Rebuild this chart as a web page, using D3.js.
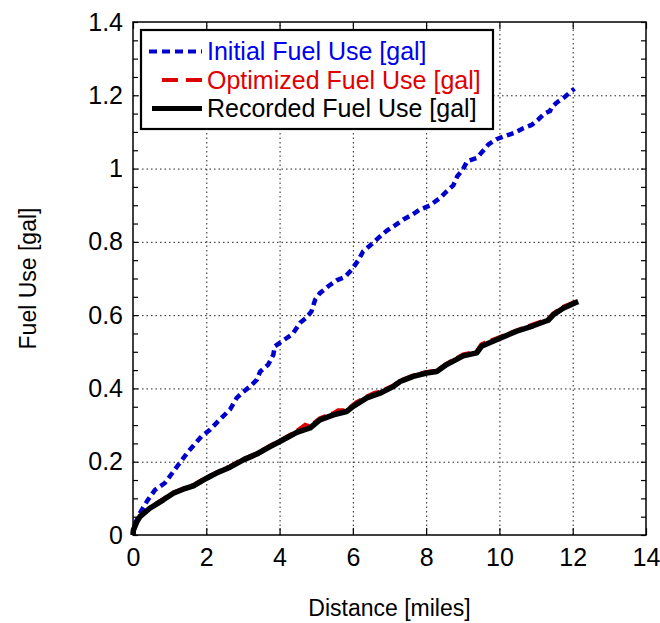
<!DOCTYPE html>
<html>
<head>
<meta charset="utf-8">
<script src="https://cdn.jsdelivr.net/npm/d3@7"></script>
<style>
  html, body { margin: 0; padding: 0; background: #fff; }
  svg { display: block; font-family: "Liberation Sans", Arial, sans-serif; }
</style>
</head>
<body>
<svg id="chart" width="660" height="623"></svg>
<script>
// Distance travelled [miles] and cumulative fuel use [gal]
const initialDist = [0, 0.05, 0.19, 0.4, 0.6, 0.87, 1.19, 1.51, 1.87, 2.1, 2.32, 2.65, 2.83, 3.0, 3.19, 3.38, 3.47, 3.69, 3.83, 3.87, 4.1, 4.36, 4.56, 4.72, 4.87, 4.97, 5.1, 5.33, 5.56, 5.78, 5.97, 6.15, 6.28, 6.47, 6.69, 6.92, 7.15, 7.38, 7.6, 7.83, 8.1, 8.38, 8.56, 8.74, 8.85, 9.0, 9.12, 9.38, 9.56, 9.7, 9.92, 10.19, 10.42, 10.65, 10.88, 11.06, 11.23, 11.38, 11.42, 11.56, 11.79, 11.97, 12.05];
const initialFuel = [0, 0.03, 0.06, 0.095, 0.123, 0.142, 0.185, 0.228, 0.269, 0.287, 0.31, 0.343, 0.374, 0.39, 0.405, 0.424, 0.446, 0.465, 0.492, 0.515, 0.531, 0.549, 0.579, 0.592, 0.61, 0.642, 0.66, 0.679, 0.695, 0.704, 0.724, 0.75, 0.774, 0.79, 0.81, 0.83, 0.845, 0.861, 0.873, 0.888, 0.899, 0.92, 0.938, 0.954, 0.979, 0.997, 1.02, 1.029, 1.049, 1.066, 1.08, 1.09, 1.098, 1.11, 1.119, 1.134, 1.15, 1.157, 1.166, 1.18, 1.196, 1.212, 1.218];

const recordedDist = [0, 0.01, 0.1, 0.19, 0.46, 0.83, 1.1, 1.37, 1.65, 2.01, 2.28, 2.65, 3.01, 3.38, 3.74, 4.1, 4.47, 4.83, 5.1, 5.47, 5.83, 6.01, 6.38, 6.74, 7.1, 7.29, 7.65, 8.01, 8.29, 8.56, 9.01, 9.38, 9.51, 9.92, 10.47, 10.92, 11.33, 11.47, 11.74, 12.1, 12.15];
const recordedFuel = [0, 0.013, 0.035, 0.05, 0.073, 0.096, 0.114, 0.125, 0.134, 0.155, 0.169, 0.185, 0.205, 0.221, 0.241, 0.26, 0.28, 0.292, 0.314, 0.328, 0.337, 0.351, 0.374, 0.387, 0.405, 0.419, 0.433, 0.442, 0.446, 0.465, 0.489, 0.497, 0.515, 0.533, 0.556, 0.571, 0.586, 0.601, 0.619, 0.635, 0.637];

const optimizedDist = [0, 0.01, 0.1, 0.19, 0.46, 0.83, 1.1, 1.37, 1.65, 2.01, 2.28, 2.65, 3.01, 3.38, 3.74, 4.1, 4.47, 4.7, 4.83, 5.1, 5.2, 5.47, 5.6, 5.83, 6.01, 6.1, 6.38, 6.6, 6.74, 7.1, 7.29, 7.65, 8.01, 8.29, 8.56, 9.01, 9.38, 9.51, 9.6, 9.92, 10.47, 10.92, 11.33, 11.47, 11.74, 12.1, 12.15];
const optimizedFuel = [0, 0.014, 0.036, 0.051, 0.074, 0.098, 0.115, 0.126, 0.136, 0.157, 0.17, 0.187, 0.207, 0.222, 0.243, 0.262, 0.283, 0.3, 0.296, 0.318, 0.322, 0.332, 0.34, 0.34, 0.355, 0.362, 0.377, 0.388, 0.39, 0.407, 0.421, 0.435, 0.444, 0.448, 0.467, 0.492, 0.5, 0.52, 0.524, 0.536, 0.558, 0.574, 0.589, 0.604, 0.622, 0.637, 0.638];

const xTicks = [0, 2, 4, 6, 8, 10, 12, 14];
const yTicks = [0, 0.2, 0.4, 0.6, 0.8, 1, 1.2, 1.4];
const yMinorTicks = d3.range(0, 1.4001, 0.05);

const seriesNames = ["Initial Fuel Use [gal]", "Optimized Fuel Use [gal]", "Recorded Fuel Use [gal]"];
const xTitle = "Distance [miles]";
const yTitle = "Fuel Use [gal]";

const margin = { left: 133, top: 22, right: 14, bottom: 88 };
const W = 660, H = 623;
const pw = W - margin.left - margin.right;   // 513
const ph = H - margin.top - margin.bottom;   // 513

const svg = d3.select("#chart");
const g = svg.append("g").attr("transform", `translate(${margin.left},${margin.top})`);

const x = d3.scaleLinear().domain([0, 14]).range([0, pw]);
const y = d3.scaleLinear().domain([0, 1.4]).range([ph, 0]);

// dotted grid at the major ticks
const grid = g.append("g").attr("class", "grid");
grid.append("g")
  .attr("transform", `translate(0,${ph})`)
  .call(d3.axisBottom(x).tickValues(xTicks.slice(1, -1)).tickSize(-ph).tickFormat(""))
  .call(s => s.select(".domain").remove());
grid.append("g")
  .call(d3.axisLeft(y).tickValues(yTicks.slice(1, -1)).tickSize(-pw).tickFormat(""))
  .call(s => s.select(".domain").remove());
grid.selectAll("line")
  .attr("stroke", "#222")
  .attr("stroke-width", 1)
  .attr("stroke-dasharray", "1.5,3");

// curves
const line = d3.line().x(d => x(d[0])).y(d => y(d[1]));
const zip = (a, b) => a.map((v, i) => [v, b[i]]);

g.append("path")
  .datum(zip(initialDist, initialFuel))
  .attr("d", line)
  .attr("fill", "none")
  .attr("stroke", "#0000cc")
  .attr("stroke-width", 4.5)
  .attr("stroke-dasharray", "7,4.5");

g.append("path")
  .datum(zip(optimizedDist, optimizedFuel))
  .attr("d", line)
  .attr("fill", "none")
  .attr("stroke", "#dd0000")
  .attr("stroke-width", 4.5)
  .attr("stroke-dasharray", "14,6");

g.append("path")
  .datum(zip(recordedDist, recordedFuel))
  .attr("d", line)
  .attr("fill", "none")
  .attr("stroke", "#000")
  .attr("stroke-width", 5.5)
  .attr("stroke-linejoin", "round");

// frame
g.append("rect")
  .attr("width", pw).attr("height", ph)
  .attr("fill", "none").attr("stroke", "#000").attr("stroke-width", 1.5);

// axes with inward ticks
const tickFont = g => g.selectAll("text")
  .attr("font-family", "'Liberation Sans', Arial, sans-serif")
  .attr("font-size", 25)
  .attr("fill", "#000");

g.append("g")
  .attr("transform", `translate(0,${ph})`)
  .call(d3.axisBottom(x).tickValues(xTicks).tickSize(-7).tickPadding(13).tickFormat(d3.format("d")))
  .call(s => s.select(".domain").remove())
  .call(tickFont);
g.append("g")
  .call(d3.axisTop(x).tickValues(xTicks).tickSize(-7).tickFormat(""))
  .call(s => s.select(".domain").remove());

g.append("g")
  .call(d3.axisLeft(y).tickValues(yTicks).tickSize(0).tickPadding(10).tickFormat(d => d === 0 || d === 1 ? d3.format("d")(d) : d3.format(".1f")(d)))
  .call(s => s.select(".domain").remove())
  .call(tickFont);
g.append("g")
  .call(d3.axisLeft(y).tickValues(yMinorTicks).tickSize(-5).tickFormat(""))
  .call(s => s.select(".domain").remove());
g.append("g")
  .attr("transform", `translate(${pw},0)`)
  .call(d3.axisRight(y).tickValues(yMinorTicks).tickSize(-5).tickFormat(""))
  .call(s => s.select(".domain").remove());

g.selectAll(".tick line").filter(function () { return !this.closest(".grid"); })
  .attr("stroke", "#000").attr("stroke-width", 1.2);

// axis titles
svg.append("text")
  .attr("x", margin.left + pw / 2).attr("y", 616)
  .attr("text-anchor", "middle")
  .attr("font-size", 23)
  .text(xTitle);
svg.append("text")
  .attr("transform", `translate(36,${margin.top + ph / 2}) rotate(-90)`)
  .attr("text-anchor", "middle")
  .attr("font-size", 23)
  .text(yTitle);

// legend
const legend = svg.append("g");
legend.append("rect")
  .attr("x", 141).attr("y", 30).attr("width", 352).attr("height", 99)
  .attr("fill", "#fff").attr("stroke", "#000").attr("stroke-width", 2.2);

const legendRows = [
  { name: seriesNames[0], color: "#0000cc", text: "#0000ee", width: 4, dash: "8,5", x0: 149, y: 51.5 },
  { name: seriesNames[1], color: "#dd0000", text: "#e00000", width: 4, dash: "16,8", x0: 162, y: 80 },
  { name: seriesNames[2], color: "#000", text: "#000", width: 5, dash: null, x0: 152, y: 108.5 }
];
legendRows.forEach(r => {
  legend.append("line")
    .attr("x1", r.x0).attr("x2", 202).attr("y1", r.y).attr("y2", r.y)
    .attr("stroke", r.color).attr("stroke-width", r.width)
    .attr("stroke-dasharray", r.dash);
  legend.append("text")
    .attr("x", 207).attr("y", r.y + 8.5)
    .attr("font-size", 25)
    .attr("fill", r.text)
    .text(r.name);
});
</script>
</body>
</html>
